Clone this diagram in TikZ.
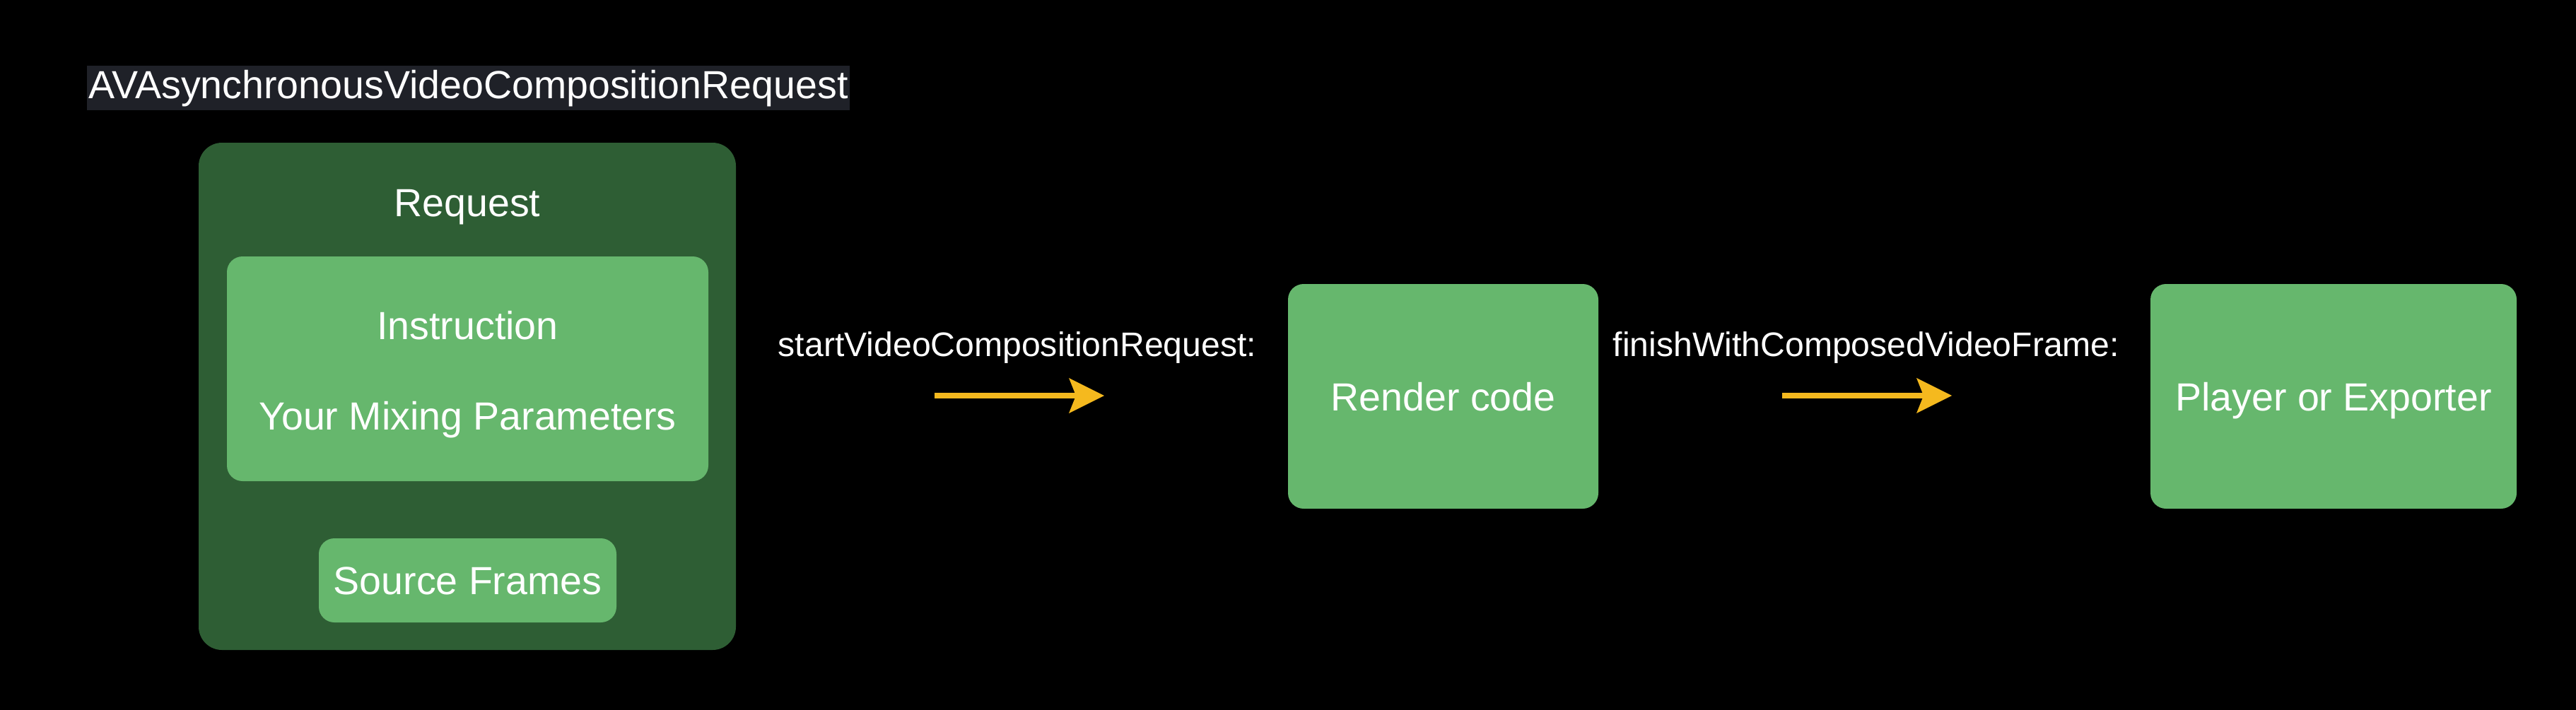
\documentclass[tikz,border=0pt]{standalone}
\usepackage{fontspec}
\setmainfont{Liberation Sans}
\usetikzlibrary{arrows.meta}

\definecolor{reqgreen}{HTML}{2E5E34}
\definecolor{boxgreen}{HTML}{66B76D}
\definecolor{titlebg}{HTML}{1F2128}
\definecolor{flowamber}{HTML}{F5B91E}

\begin{document}
\begin{tikzpicture}[x=1cm, y=-1cm,
    every node/.style={text=white, inner sep=0pt, font=\fontsize{15.8}{19}\selectfont},
    reqbox/.style={fill=reqgreen, rounded corners=0.33cm},
    greenbox/.style={fill=boxgreen, rounded corners=0.22cm, text height=0.4cm, text depth=0cm},
    boxtext/.style={text height=0.4cm, text depth=0cm},
    calltext/.style={font=\fontsize{13.7}{16}\selectfont, text height=0.35cm, text depth=0cm},
    flow/.style={draw=flowamber, line width=0.08cm,
        -{Stealth[length=0.5cm, width=0.5cm, inset=0.1cm, line width=0pt]}}]

        % Background
            \useasboundingbox (0,0) rectangle (36.44,10.04);
            \fill[black] (-0.2,-0.2) rectangle (36.64,10.24);

        % Title
            \node[fill=titlebg, minimum height=0.63cm, inner xsep=0.02cm,
                  text height=0.4cm, text depth=0.11cm] (title) at (6.625,1.245)
                {AVAsynchronousVideoCompositionRequest};

        % Request container
            \node[reqbox, minimum width=7.6cm, minimum height=7.18cm] (req) at (6.61,5.61) {};
            \node[boxtext] (reqlabel) at (6.61,2.86) {Request};

            % Instruction with mixing parameters
            \node[greenbox, minimum width=6.81cm, minimum height=3.18cm] (instr) at (6.615,5.22) {};
            \node[boxtext] (instrname) at (6.615,4.60) {Instruction};
            \node[boxtext] (instrparams) at (6.615,5.88) {Your Mixing Parameters};

            % Source frames
            \node[greenbox, minimum width=4.21cm, minimum height=1.19cm] (src) at (6.615,8.215) {Source Frames};

        % Render code and output
            \node[greenbox, minimum width=4.39cm, minimum height=3.18cm] (render) at (20.415,5.61) {Render code};
            \node[greenbox, minimum width=5.18cm, minimum height=3.18cm] (player) at (33.01,5.61) {Player or Exporter};

        % Calls between the stages
            \coordinate (startfrom) at (13.22,5.60);
            \coordinate (startto) at (15.62,5.60);
            \draw[flow] (startfrom) -- (startto);
            \node[calltext] (startcall) at (14.39,4.87) {startVideoCompositionRequest:};

            \coordinate (finishfrom) at (25.21,5.60);
            \coordinate (finishto) at (27.61,5.60);
            \draw[flow] (finishfrom) -- (finishto);
            \node[calltext] (finishcall) at (26.40,4.87) {finishWithComposedVideoFrame:};

    \end{tikzpicture}
\end{document}
